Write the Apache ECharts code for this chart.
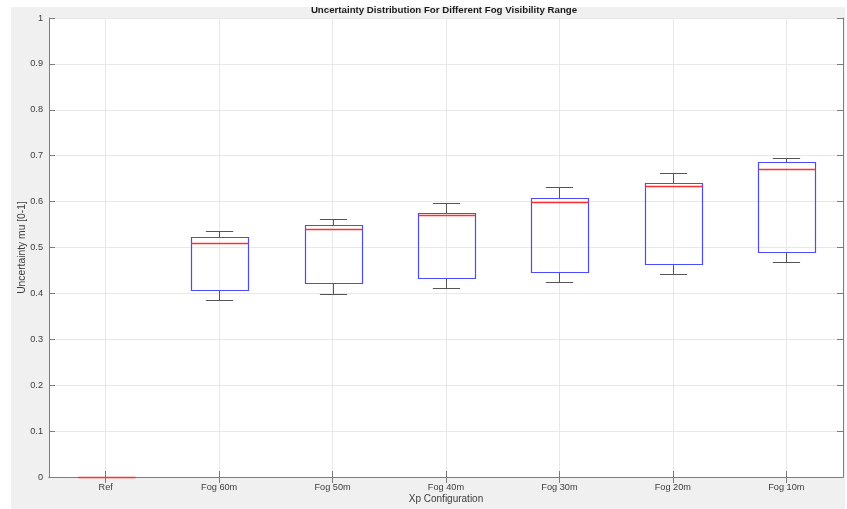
<!DOCTYPE html>
<html>
<head>
<meta charset="utf-8">
<title>Uncertainty Distribution For Different Fog Visibility Range</title>
<script src="https://cdn.jsdelivr.net/npm/echarts@6/dist/echarts.min.js"></script>
<style>
  html, body { margin: 0; padding: 0; background: #ffffff; }
  #frame { position: absolute; left: 11px; top: 7px; width: 834px; height: 502px; background: #f0f0f0; }
  #chart { position: absolute; left: 0; top: 0; width: 847px; height: 509px; }
</style>
</head>
<body>
<div id="frame"></div>
<div id="chart"></div>
<script>
// Box statistics per fog configuration (uncertainty mu, 0..1)
const categories   = ['Ref', 'Fog 60m', 'Fog 50m', 'Fog 40m', 'Fog 30m', 'Fog 20m', 'Fog 10m'];
const lowerWhisker = [0, 0.385, 0.398, 0.411, 0.425, 0.443, 0.469];
const quartile1    = [0, 0.407, 0.422, 0.433, 0.447, 0.463, 0.491];
const medianValue  = [0, 0.510, 0.540, 0.570, 0.600, 0.635, 0.672];
const quartile3    = [0, 0.522, 0.548, 0.575, 0.608, 0.641, 0.686];
const upperWhisker = [0, 0.536, 0.563, 0.596, 0.632, 0.662, 0.694];
const yTickLabels  = ['0', '0.1', '0.2', '0.3', '0.4', '0.5', '0.6', '0.7', '0.8', '0.9', '1'];

const boxData = categories.map((c, i) => [i, lowerWhisker[i], quartile1[i], medianValue[i], quartile3[i], upperWhisker[i]]);

const FONT = '"Liberation Sans", Arial, Helvetica, sans-serif';
const AXIS_COLOR = '#7d7d7d';
const TEXT_COLOR = '#3c3c3c';
const GRID_COLOR = '#e8e8e8';

const crisp = v => Math.round(v) + 0.5;

function renderBox(params, api) {
  const i = api.value(0);
  const band = api.size([1, 0])[0];
  const halfBox = band * 0.25;
  const halfCap = band * 0.12;
  const pLow = api.coord([i, api.value(1)]);
  const pQ1  = api.coord([i, api.value(2)]);
  const pMed = api.coord([i, api.value(3)]);
  const pQ3  = api.coord([i, api.value(4)]);
  const pHigh = api.coord([i, api.value(5)]);
  const cx = crisp(pMed[0]);
  const whiskerStyle = { stroke: '#555555', lineWidth: 1, fill: null };
  const yQ1 = crisp(pQ1[1]), yQ3 = crisp(pQ3[1]);
  const yLow = crisp(pLow[1]), yHigh = crisp(pHigh[1]), yMed = crisp(pMed[1]);
  const left = crisp(cx - halfBox), right = crisp(cx + halfBox);
  return {
    type: 'group',
    children: [
      { type: 'line', shape: { x1: cx, y1: yQ3, x2: cx, y2: yHigh }, style: whiskerStyle },
      { type: 'line', shape: { x1: cx, y1: yQ1, x2: cx, y2: yLow }, style: whiskerStyle },
      { type: 'line', shape: { x1: cx - halfCap, y1: yHigh, x2: cx + halfCap, y2: yHigh }, style: whiskerStyle },
      { type: 'line', shape: { x1: cx - halfCap, y1: yLow, x2: cx + halfCap, y2: yLow }, style: whiskerStyle },
      { type: 'rect', shape: { x: left, y: yQ3, width: right - left, height: yQ1 - yQ3 },
        style: { stroke: '#4a4aff', lineWidth: 1.2, fill: null } },
      { type: 'line', z2: 5, shape: { x1: left, y1: yMed, x2: right, y2: yMed },
        style: { stroke: '#ff3030', lineWidth: 1.5 } }
    ]
  };
}

const chart = echarts.init(document.getElementById('chart'), null, { renderer: 'canvas' });

const tickCommon = { show: true, inside: true, length: 6, lineStyle: { color: AXIS_COLOR, width: 1 } };

chart.setOption({
  backgroundColor: 'transparent',
  animation: false,
  textStyle: { fontFamily: FONT },
  graphic: [{
    type: 'text',
    x: 444, y: 10.5,
    style: {
      text: 'Uncertainty Distribution For Different Fog Visibility Range',
      font: 'bold 9.7px ' + FONT,
      fill: '#1a1a1a',
      textAlign: 'center',
      textVerticalAlign: 'middle'
    }
  }],
  grid: {
    show: true, left: 49, top: 18, right: 4, bottom: 31,
    backgroundColor: '#ffffff', borderWidth: 0
  },
  xAxis: [{
    type: 'category',
    data: categories,
    position: 'bottom',
    boundaryGap: true,
    axisLine: { show: true, lineStyle: { color: AXIS_COLOR, width: 1 } },
    axisTick: Object.assign({ alignWithLabel: true }, tickCommon),
    axisLabel: { fontSize: 9.2, color: TEXT_COLOR, margin: 6, fontFamily: FONT },
    splitLine: { show: true, alignWithLabel: true, lineStyle: { color: GRID_COLOR, width: 1 } },
    name: 'Xp Configuration',
    nameLocation: 'middle',
    nameGap: 17,
    nameMoveOverlap: false,
    nameTextStyle: { fontSize: 10, color: TEXT_COLOR, fontFamily: FONT }
  }, {
    type: 'category',
    data: categories,
    position: 'top',
    boundaryGap: true,
    axisLine: { show: true, lineStyle: { color: AXIS_COLOR, width: 1 } },
    axisTick: Object.assign({ alignWithLabel: true }, tickCommon),
    axisLabel: { show: false },
    splitLine: { show: false }
  }],
  yAxis: [{
    type: 'value',
    min: 0, max: 1, interval: 0.1,
    position: 'left',
    axisLine: { show: true, lineStyle: { color: AXIS_COLOR, width: 1 } },
    axisTick: tickCommon,
    axisLabel: {
      fontSize: 9.2, color: TEXT_COLOR, margin: 6, fontFamily: FONT,
      formatter: v => yTickLabels[Math.round(v * 10)]
    },
    splitLine: { show: true, lineStyle: { color: GRID_COLOR, width: 1 } },
    name: 'Uncertainty mu [0-1]',
    nameLocation: 'middle',
    nameGap: 22,
    nameMoveOverlap: false,
    nameTextStyle: { fontSize: 10.3, color: TEXT_COLOR, fontFamily: FONT }
  }, {
    type: 'value',
    min: 0, max: 1, interval: 0.1,
    position: 'right',
    axisLine: { show: true, lineStyle: { color: AXIS_COLOR, width: 1 } },
    axisTick: tickCommon,
    axisLabel: { show: false },
    splitLine: { show: false }
  }],
  series: [{
    type: 'custom',
    xAxisIndex: 0,
    yAxisIndex: 0,
    renderItem: renderBox,
    encode: { x: 0, y: [1, 2, 3, 4, 5] },
    data: boxData,
    clip: false,
    z: 10
  }]
});
</script>
</body>
</html>
